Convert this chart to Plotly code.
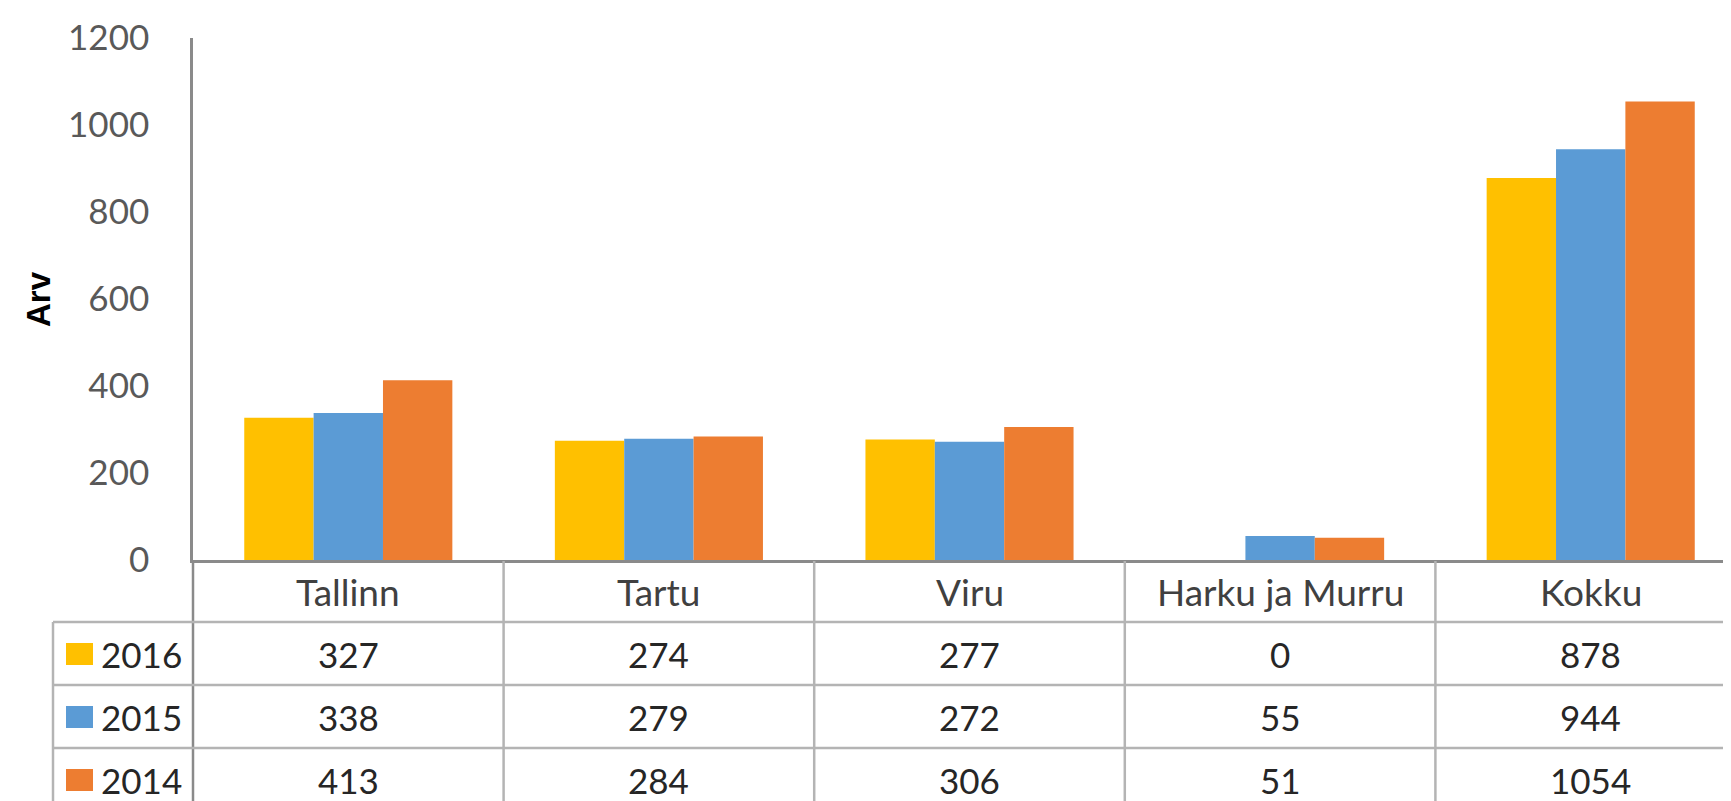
import plotly.graph_objects as go

categories = ["Tallinn", "Tartu", "Viru", "Harku ja Murru", "Kokku"]
years = ["2016", "2015", "2014"]
values_2016 = [327, 274, 277, 0, 878]
values_2015 = [338, 279, 272, 55, 944]
values_2014 = [413, 284, 306, 51, 1054]
colors = ["#FFC000", "#5B9BD5", "#ED7D31"]
y_ticks = [0, 200, 400, 600, 800, 1000, 1200]
y_title = "Arv"

series = [values_2016, values_2015, values_2014]

W, H = 1731, 801
L, R, T, B = 185, 0, 30, 249
PW = W - L - R
PH = H - T - B
cat_w = 310.6  # pixels per category
x_range = [-0.5, -0.5 + PW / cat_w]

FONT = "Lato"
SIZE = 35
CAT_SIZE = 37


def px(xp):
    return (xp - L) / PW


def py(yp):
    return (H - B - yp) / PH


fig = go.Figure()
for name, vals, col in zip(years, series, colors):
    fig.add_trace(go.Bar(x=list(range(len(categories))), y=vals, name=name,
                         marker=dict(color=col, line=dict(width=0)),
                         showlegend=False))

shapes = []
annotations = []
grid_col = "#b4b4b4"
axis_col = "#8a8a8a"

# vertical y-axis line extension through table
shapes.append(dict(type="line", xref="paper", yref="paper", x0=0, x1=0,
                   y0=py(552), y1=py(H + 5), line=dict(color=axis_col, width=2.5)))
# column boundaries in table
for i in range(len(categories) - 1):
    shapes.append(dict(type="line", xref="x", yref="paper", x0=i + 0.5, x1=i + 0.5,
                       y0=py(553), y1=py(H + 5), line=dict(color=grid_col, width=2.5)))
# left border of legend column
shapes.append(dict(type="line", xref="paper", yref="paper", x0=px(45), x1=px(45),
                   y0=py(614), y1=py(H + 5), line=dict(color=grid_col, width=2.5)))
# horizontal row lines
row_lines = [614, 677, 740]
for yl in row_lines:
    shapes.append(dict(type="line", xref="paper", yref="paper", x0=px(45), x1=1.0,
                       y0=py(yl), y1=py(yl), line=dict(color=grid_col, width=2.5)))

# category header labels
for i, c in enumerate(categories):
    annotations.append(dict(x=i, y=py(583), xref="x", yref="paper", text=c,
                            showarrow=False, xanchor="center", yanchor="middle",
                            font=dict(family=FONT, size=CAT_SIZE, color="#404040")))

row_centers = [646, 709, 772]
for r, (name, vals, col) in enumerate(zip(years, series, colors)):
    yc = row_centers[r]
    shapes.append(dict(type="rect", xref="paper", yref="paper",
                       x0=px(58), x1=px(85), y0=py(yc - 11), y1=py(yc + 11),
                       fillcolor=col, line=dict(width=0)))
    annotations.append(dict(x=px(91), y=py(yc), xref="paper", yref="paper", text=name,
                            showarrow=False, xanchor="left", yanchor="middle",
                            font=dict(family=FONT, size=SIZE, color="#262626")))
    for i, v in enumerate(vals):
        annotations.append(dict(x=i, y=py(yc), xref="x", yref="paper", text=str(v),
                                showarrow=False, xanchor="center", yanchor="middle",
                                font=dict(family=FONT, size=SIZE, color="#262626")))

# y-axis title
annotations.append(dict(x=px(30), y=0.5, xref="paper", yref="paper", text="<b>" + y_title + "</b>",
                        showarrow=False, textangle=-90, xanchor="center", yanchor="middle",
                        font=dict(family="Liberation Sans", size=33, color="#000000")))

fig.update_layout(
    width=W, height=H,
    margin=dict(l=L, r=R, t=T, b=B, autoexpand=False),
    paper_bgcolor="white", plot_bgcolor="white",
    barmode="group", bargap=0.33, bargroupgap=0,
    shapes=shapes, annotations=annotations,
    xaxis=dict(range=x_range, showticklabels=False, showgrid=False, zeroline=False,
               showline=True, linecolor=axis_col, linewidth=3, ticks="", fixedrange=True),
    yaxis=dict(range=[0, 1200], tickvals=y_ticks, showgrid=False, zeroline=False,
               showline=True, linecolor=axis_col, linewidth=2.5,
               ticks="outside", ticklen=34, tickcolor="rgba(0,0,0,0)",
               tickfont=dict(family=FONT, size=SIZE, color="#595959")),
)

fig.write_html("out.html")
